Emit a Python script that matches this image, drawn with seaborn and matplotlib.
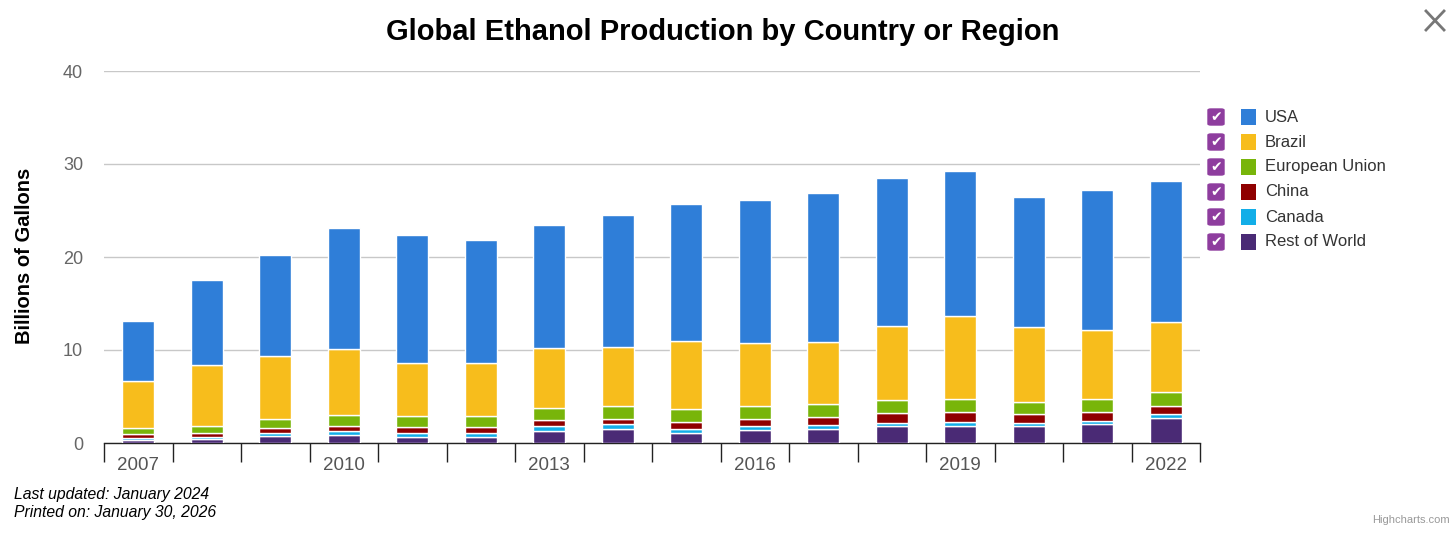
import numpy as np
import pandas as pd
import matplotlib
matplotlib.use('Agg')
import matplotlib.pyplot as plt
from matplotlib.patches import FancyBboxPatch, Rectangle
from matplotlib.lines import Line2D
import seaborn as sns

# 데이터 (billions of gallons)
years = ['2007', '2008', '2009', '2010', '2011', '2012', '2013', '2014',
         '2015', '2016', '2017', '2018', '2019', '2020', '2021', '2022']
usa = [6.45, 9.15, 10.85, 13.0, 13.8, 13.2, 13.2, 14.2, 14.7, 15.35, 15.95, 15.95, 15.6, 14.0, 15.0, 15.2]
brazil = [5.1, 6.6, 6.8, 7.1, 5.7, 5.7, 6.4, 6.3, 7.3, 6.8, 6.7, 7.95, 9.0, 8.1, 7.5, 7.5]
eu = [0.6, 0.7, 1.0, 1.2, 1.2, 1.2, 1.3, 1.4, 1.4, 1.4, 1.4, 1.4, 1.4, 1.3, 1.4, 1.5]
china = [0.5, 0.5, 0.5, 0.5, 0.6, 0.6, 0.7, 0.6, 0.8, 0.8, 0.9, 1.0, 1.0, 0.9, 0.9, 0.9]
canada = [0.2, 0.2, 0.3, 0.4, 0.5, 0.5, 0.5, 0.5, 0.4, 0.4, 0.4, 0.4, 0.5, 0.4, 0.4, 0.4]
rest_of_world = [0.3, 0.4, 0.8, 0.9, 0.6, 0.6, 1.3, 1.5, 1.1, 1.4, 1.5, 1.8, 1.8, 1.8, 2.0, 2.7]

# 아래에서 위로 쌓는 순서
series = [
    ('Rest of World', rest_of_world, '#4a2a75'),
    ('Canada', canada, '#12aee8'),
    ('China', china, '#8f0000'),
    ('European Union', eu, '#78b50a'),
    ('Brazil', brazil, '#f7bd1c'),
    ('USA', usa, '#2f7ed8'),
]

plt.rcParams['font.family'] = ['Liberation Sans', 'DejaVu Sans']

fig = plt.figure(figsize=(14.56, 5.35), dpi=100)
ax = fig.add_axes([104 / 1456, 1 - 443 / 535, (1200 - 104) / 1456, (443 - 71) / 535])

bottom = np.zeros(len(years))
for name, vals, col in series:
    df = pd.DataFrame({'year': years, 'value': vals})
    sns.barplot(data=df, x='year', y='value', order=years, color=col,
                width=0.47, bottom=bottom, edgecolor='white', linewidth=1,
                saturation=1, ax=ax, zorder=3)
    bottom = bottom + np.array(vals)

ax.set_xlim(-0.5, len(years) - 0.5)
ax.set_ylim(0, 40)
ax.set_yticks([0, 10, 20, 30, 40])
ax.set_yticklabels(['0', '10', '20', '30', '40'])
ax.tick_params(axis='y', length=0, pad=15, labelsize=13, labelcolor='#666666')
ax.grid(axis='y', color='#c8c8c8', linewidth=1, zorder=0)
ax.set_axisbelow(True)

# x축: 구간 경계에 눈금, 3년마다 라벨
ax.set_xticks(np.arange(-0.5, len(years), 1.0))
ax.set_xticklabels([])
ax.tick_params(axis='x', which='major', length=14, width=1, color='#222222', direction='out')
ax.set_xticks(np.arange(0, len(years), 3), minor=True)
ax.set_xticklabels([years[i] for i in range(0, len(years), 3)], minor=True)
ax.tick_params(axis='x', which='minor', length=0, pad=10, labelsize=13.5, labelcolor='#555555')

for s in ['top', 'right', 'left']:
    ax.spines[s].set_visible(False)
ax.spines['bottom'].set_color('#222222')
ax.spines['bottom'].set_linewidth(1)
ax.set_xlabel('')
ax.set_ylabel('')

fig.text(25 / 1456, 1 - 256 / 535, 'Billions of Gallons', rotation=90, ha='center',
         va='center', fontsize=14.5, fontweight='bold', color='#000000')

fig.text(723 / 1456, 1 - 32 / 535, 'Global Ethanol Production by Country or Region',
         ha='center', va='center', fontsize=21, fontweight='bold', color='#000000')

# 범례 (체크박스 + 색상 상자)
legend_order = ['USA', 'Brazil', 'European Union', 'China', 'Canada', 'Rest of World']
colors = {name: col for name, _, col in series}
for i, name in enumerate(legend_order):
    yc = 117 + 25 * i
    fig.patches.append(FancyBboxPatch((1208 / 1456, 1 - (yc + 8) / 535), 16 / 1456, 16 / 535,
                                      boxstyle='round,pad=0,rounding_size=0.002',
                                      transform=fig.transFigure, facecolor='#8e3d9e',
                                      edgecolor='#8e3d9e', linewidth=1))
    fig.text(1216 / 1456, 1 - yc / 535, '✔', ha='center', va='center', fontsize=10,
             color='white', family=['DejaVu Sans'])
    fig.patches.append(Rectangle((1241 / 1456, 1 - (yc + 8) / 535), 15 / 1456, 16 / 535,
                                 transform=fig.transFigure, facecolor=colors[name],
                                 edgecolor='none'))
    fig.text(1265 / 1456, 1 - yc / 535, name, ha='left', va='center', fontsize=12,
             color='#333333')

# 하단 문구
fig.text(14 / 1456, 1 - 494 / 535, 'Last updated: January 2024', ha='left', va='center',
         fontsize=11.3, style='italic', color='#000000')
fig.text(14 / 1456, 1 - 512 / 535, 'Printed on: January 30, 2026', ha='left', va='center',
         fontsize=11.3, style='italic', color='#000000')
fig.text(1450 / 1456, 1 - 520 / 535, 'Highcharts.com', ha='right', va='center',
         fontsize=8, color='#999999')

# 닫기 버튼 X
for (x0, y0, x1, y1) in [(1426, 11, 1444, 30), (1426, 30, 1444, 11)]:
    fig.lines.append(Line2D([x0 / 1456, x1 / 1456], [1 - y0 / 535, 1 - y1 / 535],
                            transform=fig.transFigure, color='#777777', linewidth=2))

fig.savefig('out.png', dpi=100)
